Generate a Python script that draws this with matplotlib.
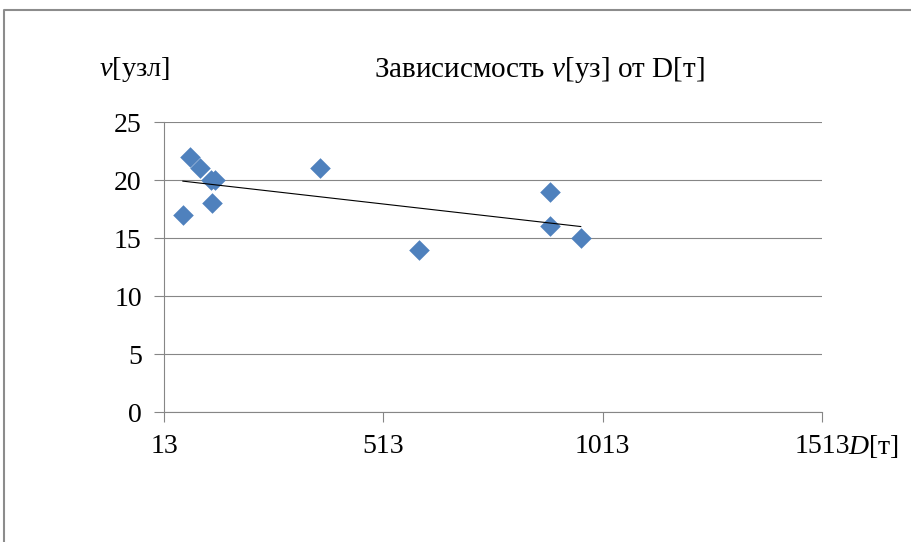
import matplotlib.pyplot as plt
import numpy as np
from matplotlib.lines import Line2D

plt.rcParams['font.family'] = ['Liberation Serif', 'DejaVu Serif']
plt.rcParams['mathtext.fontset'] = 'custom'
plt.rcParams['mathtext.rm'] = 'Liberation Serif'
plt.rcParams['mathtext.it'] = 'Liberation Serif:italic'

# displacement D [т] and speed v [узл]
D = [56, 72, 95, 120, 129, 122, 369, 594, 893, 893, 963]
v = [17, 22, 21, 20, 20, 18, 21, 14, 19, 16, 15]

x_ticks = [13, 513, 1013, 1513]
y_ticks = [0, 5, 10, 15, 20, 25]

W, H = 912, 542
fig = plt.figure(figsize=(W / 100, H / 100), dpi=100)
ax = fig.add_axes([164 / W, 1 - 412 / H, 658 / W, 290 / H])

gray = '#868686'
ax.scatter(D, v, marker='D', s=110, color='#4F81BD', linewidths=0, zorder=3)

# linear trend line
k, b = np.polyfit(D, v, 1)
xs = np.array([min(D), max(D)])
ax.plot(xs, k * xs + b, color='black', linewidth=0.8, zorder=4)

ax.set_xlim(13, 1513)
ax.set_ylim(0, 25)
ax.set_xticks(x_ticks)
ax.set_yticks(y_ticks)
ax.grid(axis='y', color=gray, linewidth=0.8)
ax.set_axisbelow(True)
for s in ['top', 'right']:
    ax.spines[s].set_visible(False)
for s in ['left', 'bottom']:
    ax.spines[s].set_color(gray)
    ax.spines[s].set_linewidth(0.8)
ax.tick_params(axis='both', colors=gray, labelcolor='black', labelsize=20,
               length=7, width=0.8)
ax.tick_params(axis='y', pad=9)
ax.tick_params(axis='x', pad=9)

fig.text(99 / W, 1 - 70 / H, '$v$[узл]', fontsize=20.5, va='center', ha='left')
fig.text(539 / W, 1 - 70 / H, 'Зависисмость $v$[уз] от D[т]', fontsize=21,
         va='center', ha='center')
fig.text(848 / W, 1 - 446 / H, '$D$[т]', fontsize=20, va='center', ha='left')

# chart frame
fig.add_artist(Line2D([4 / W, 4 / W, 1], [0, 1 - 10 / H, 1 - 10 / H],
                      transform=fig.transFigure, color='#8c8c8c', linewidth=1.5))

plt.savefig('out.png', dpi=100)
